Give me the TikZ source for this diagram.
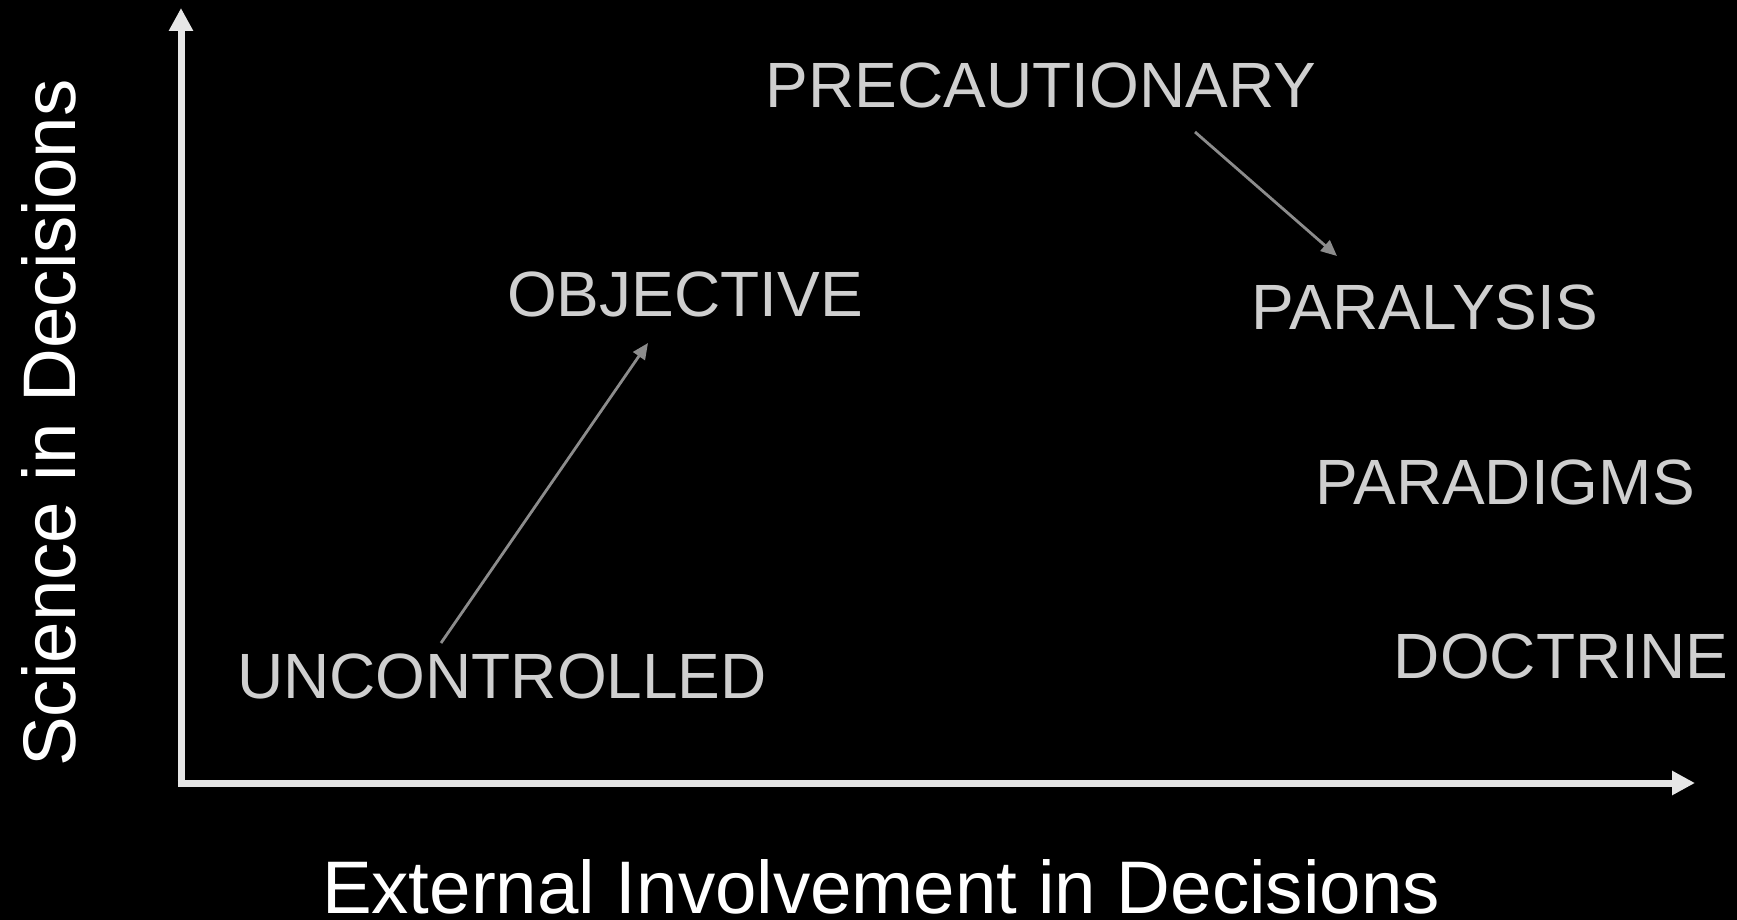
\documentclass[tikz,border=0pt]{standalone}
\usepackage{fontspec}
\setmainfont{Liberation Sans}
\usetikzlibrary{arrows.meta}
\definecolor{axiscol}{HTML}{E6E6E6}
\definecolor{labelcol}{HTML}{CFCFCF}
\definecolor{trendcol}{HTML}{8C8C8C}
\tikzset{
  axis/.style={draw=axiscol, line width=7pt, -{Triangle[length=23pt,width=23pt]}},
  trend/.style={draw=trendcol, line width=2.8pt, -{Triangle[length=16pt,width=14pt]}},
  regime/.style={text=labelcol, inner sep=0pt, anchor=base, font=\fontsize{64}{70}\selectfont},
  axislabel/.style={text=white, inner sep=0pt, anchor=base, text depth=0pt, font=\fontsize{74.5}{80}\selectfont}
}
\begin{document}
\begin{tikzpicture}[x=1pt, y=-1pt]
  \fill[black] (0,0) rectangle (1737,920);
  \useasboundingbox (0,0) rectangle (1737,920);

  % axes
  \coordinate (origin) at (181,783);
  \coordinate (ytip) at (181,8);
  \coordinate (xtip) at (1695,783);
  \draw[axis] (origin) -- (ytip);
  \draw[axis] ([xshift=-3.5pt]origin) -- (xtip);

  % axis titles
  \node[axislabel] (xlab) at (881,913) {External Involvement in Decisions};
  \node[axislabel, rotate=90] (ylab) at (75,423) {Science in Decisions};

  % regimes
  \node[regime] (prec) at (1041,108) {PRECAUTIONARY};
  \node[regime] (obj)  at (685,316)  {OBJECTIVE};
  \node[regime] (para) at (1425,329) {PARALYSIS};
  \node[regime] (parad) at (1505,504) {PARADIGMS};
  \node[regime] (doct) at (1561,678) {DOCTRINE};
  \node[regime] (unc)  at (502,698)  {UNCONTROLLED};

  % transitions
  \coordinate (uncout) at (441,643);
  \coordinate (objin)  at (648,343);
  \coordinate (precout) at (1195,132);
  \coordinate (parain)  at (1337,256);
  \draw[trend] (uncout) -- (objin);
  \draw[trend] (precout) -- (parain);
\end{tikzpicture}
\end{document}
